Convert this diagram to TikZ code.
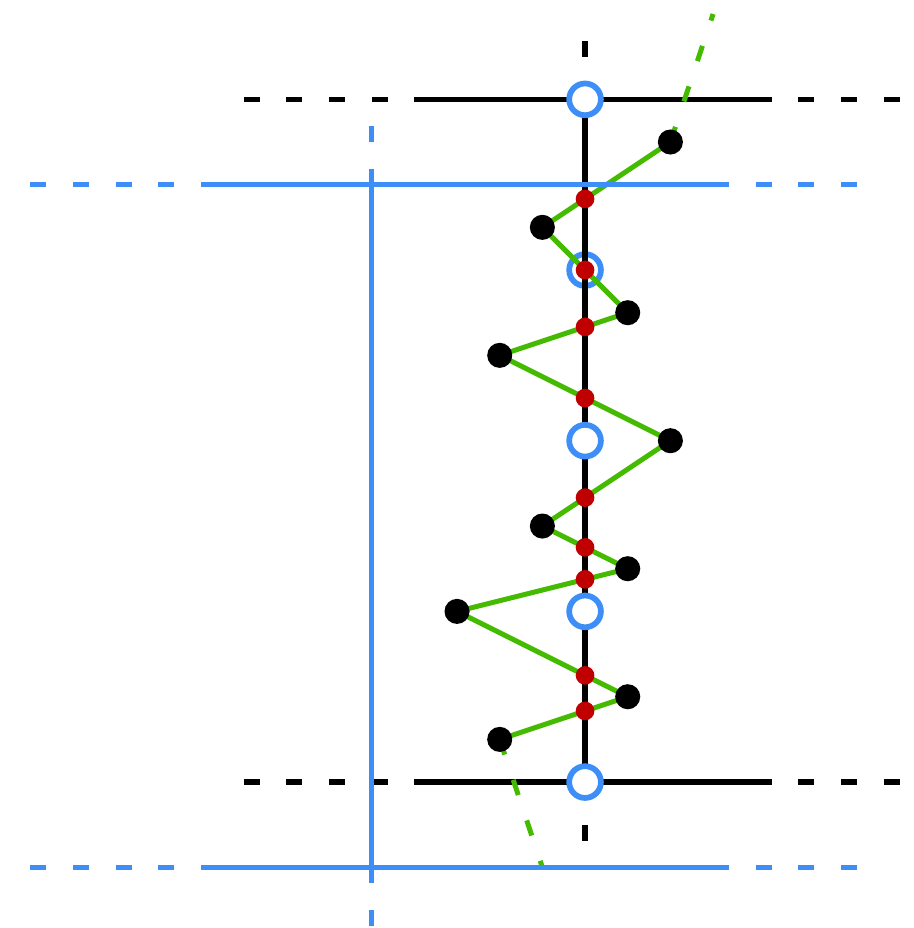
\documentclass[tikz,border=0pt]{standalone}
\usetikzlibrary{calc}
\definecolor{cblue}{RGB}{61,142,247}
\definecolor{cgreen}{RGB}{68,187,0}
\definecolor{cred}{RGB}{192,0,0}
\begin{document}
\begin{tikzpicture}[x=32pt,y=32pt,line cap=butt,
  blk/.style={draw=black,line width=4pt},
  blu/.style={draw=cblue,line width=4pt},
  grn/.style={draw=cgreen,line width=3.75pt},
  dsh/.style={dash pattern=on 12pt off 20pt},
  ring/.style={circle,draw=cblue,fill=white,line width=4.3pt,minimum size=23.8pt,inner sep=0pt},
  bdot/.style={circle,fill=black,minimum size=18.8pt,inner sep=0pt},
  rdot/.style={circle,fill=cred,minimum size=14pt,inner sep=0pt}]
\useasboundingbox (-13.711,-11.420) rectangle (7.687,10.328);
% black frame
\coordinate (bl) at (-8,8); \coordinate (br) at (8.375,8);
\coordinate (bsl) at (-4,8); \coordinate (bsr) at (4.375,8);
\coordinate (cl) at (-8,-8); \coordinate (cr) at (8.375,-8);
\coordinate (csl) at (-4,-8); \coordinate (csr) at (4.375,-8);
\draw[blk,dsh] (bl) -- (br);
\draw[blk] (bsl) -- (bsr);
\draw[blk,dsh] (cl) -- (cr);
\draw[blk] (csl) -- (csr);
% ring under the axis
\node[ring] (r2) at (0,4) {};
% black axis
\coordinate (vt) at (0,8); \coordinate (vb) at (0,-8);
\coordinate (vt1) at (0,9); \coordinate (vt2) at (0,9.375);
\coordinate (vb1) at (0,-9); \coordinate (vb2) at (0,-9.375);
\draw[blk] (vt) -- (vb);
\draw[blk] (vt1) -- (vt2);
\draw[blk] (vb1) -- (vb2);
% rings
\node[ring] (r1) at (0,8) {};
\node[ring] (r3) at (0,0) {};
\node[ring] (r4) at (0,-4) {};
\node[ring] (r5) at (0,-8) {};
% dot positions
\coordinate (p1) at (2,7);
\coordinate (p2) at (-1,5);
\coordinate (p3) at (1,3);
\coordinate (p4) at (-2,2);
\coordinate (p5) at (2,0);
\coordinate (p6) at (-1,-2);
\coordinate (p7) at (1,-3);
\coordinate (p8) at (-3,-4);
\coordinate (p9) at (1,-6);
\coordinate (p10) at (-2,-7);
\coordinate (gt) at (3,10);
\coordinate (gb) at (-1,-10);
% green path
\draw[grn,line join=round] (p1) -- (p2) -- (p3) -- (p4) -- (p5) -- (p6) -- (p7) -- (p8) -- (p9) -- (p10);
\draw[grn,dsh] (p1) -- (gt);
\draw[grn,dsh] (p10) -- (gb);
% blue frame
\coordinate (ul) at (-13,6); \coordinate (ur) at (6.375,6);
\coordinate (usl) at (-9,6); \coordinate (usr) at (3.375,6);
\coordinate (ll) at (-13,-10); \coordinate (lr) at (6.375,-10);
\coordinate (lsl) at (-9,-10); \coordinate (lsr) at (3.375,-10);
\draw[blu,dsh] (ul) -- (ur);
\draw[blu] (usl) -- (usr);
\draw[blu,dsh] (ll) -- (lr);
\draw[blu] (lsl) -- (lsr);
\coordinate (wt) at (-5,6.375); \coordinate (wb) at (-5,-10.375);
\coordinate (wt1) at (-5,7); \coordinate (wt2) at (-5,7.375);
\coordinate (wb1) at (-5,-11); \coordinate (wb2) at (-5,-11.375);
\draw[blu] (wt) -- (wb);
\draw[blu] (wt1) -- (wt2);
\draw[blu] (wb1) -- (wb2);
% black dots
\foreach \i in {1,...,10} { \node[bdot] (d\i) at (p\i) {}; }
% red dots
\node[rdot] (q1) at (0,17/3) {};
\node[rdot] (q2) at (0,4) {};
\node[rdot] (q3) at (0,8/3) {};
\node[rdot] (q4) at (0,1) {};
\node[rdot] (q5) at (0,-4/3) {};
\node[rdot] (q6) at (0,-2.5) {};
\node[rdot] (q7) at (0,-3.25) {};
\node[rdot] (q8) at (0,-5.5) {};
\node[rdot] (q9) at (0,-19/3) {};
\end{tikzpicture}
\end{document}
